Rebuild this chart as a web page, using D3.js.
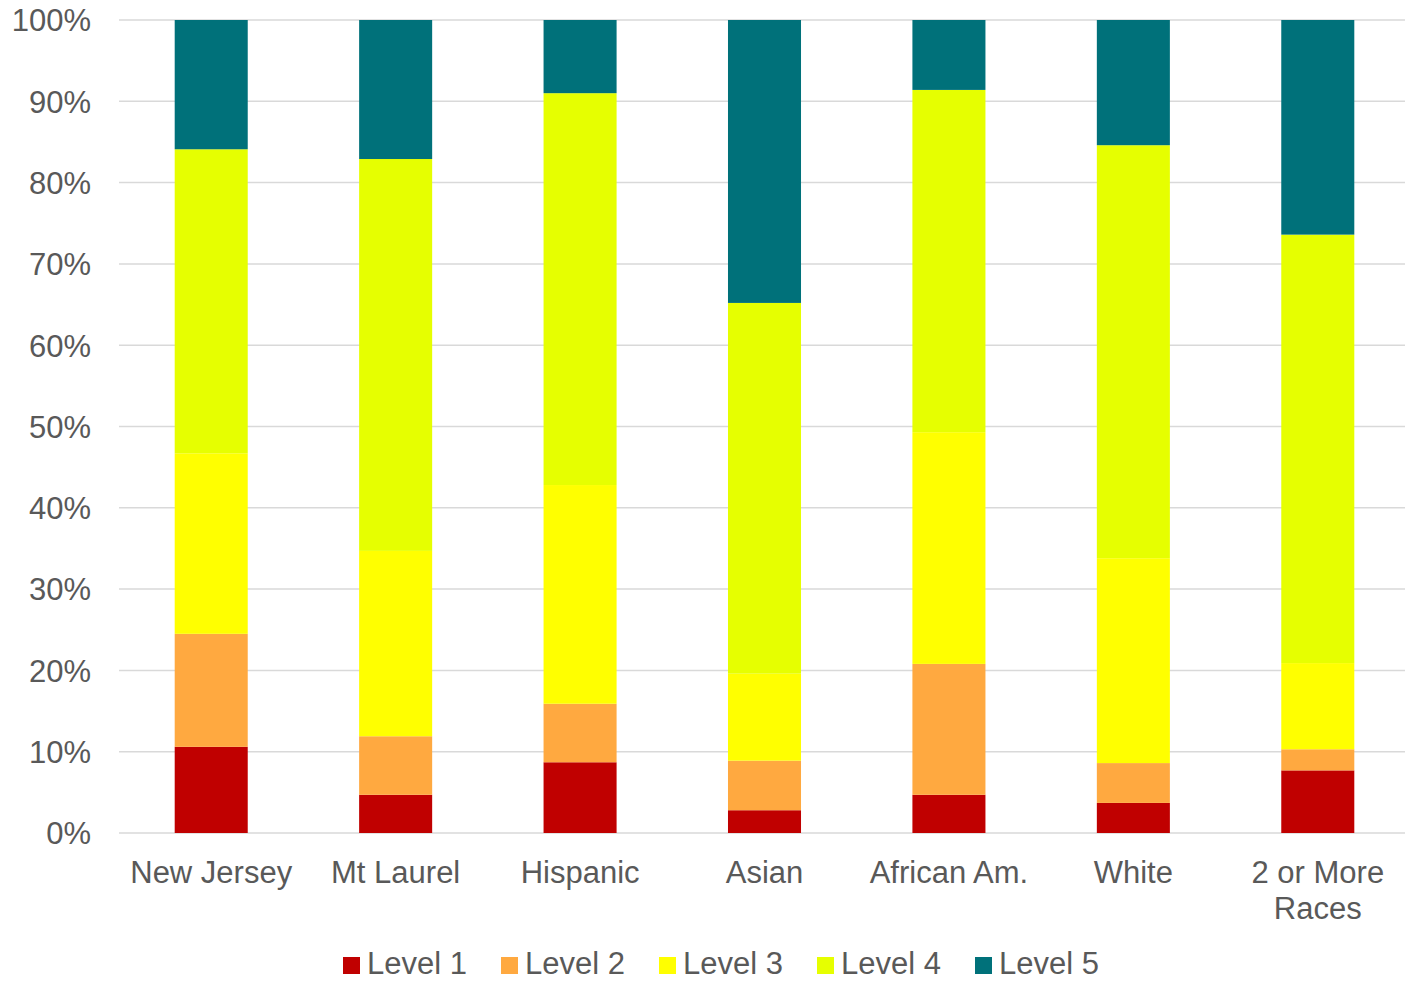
<!DOCTYPE html>
<html><head><meta charset="utf-8">
<script src="https://cdn.jsdelivr.net/npm/d3@7"></script>
<style>body{margin:0;background:#fff;}svg{display:block;font-family:"Liberation Sans",Arial,sans-serif;}</style>
</head><body>
<svg id="chart" width="1405" height="981"></svg>
<script>
const categories = ["New Jersey","Mt Laurel","Hispanic","Asian","African Am.","White","2 or More Races"];
const seriesNames = ["Level 1","Level 2","Level 3","Level 4","Level 5"];
const level1 = [10.6, 4.7, 8.7, 2.8, 4.7, 3.7, 7.7];
const level2 = [13.9, 7.2, 7.2, 6.1, 16.1, 4.9, 2.6];
const level3 = [22.2, 22.8, 26.9, 10.7, 28.5, 25.2, 10.6];
const level4 = [37.4, 48.2, 48.2, 45.6, 42.1, 50.8, 52.7];
const level5 = [15.9, 17.1, 9.0, 34.8, 8.6, 15.4, 26.4];
const colors = ["#C00000","#FFA940","#FFFF00","#E6FF00","#00717A"];
const tickValues = [0,10,20,30,40,50,60,70,80,90,100];

const series = [level1, level2, level3, level4, level5];
const rows = categories.map((c,i)=>{const r={cat:c}; seriesNames.forEach((s,j)=>r[s]=series[j][i]); return r;});
const stacked = d3.stack().keys(seriesNames)(rows);

const svg = d3.select("#chart");
const x = d3.scaleBand().domain(categories).range([119,1410]).paddingInner(0.604).paddingOuter(0.302);
const y = d3.scaleLinear().domain([0,100]).range([833,20]);
const textColor = "#595959";

// gridlines
svg.append("g").selectAll("line").data(tickValues).join("line")
  .attr("x1",119).attr("x2",1405)
  .attr("y1",d=>y(d)).attr("y2",d=>y(d))
  .attr("stroke","#D9D9D9").attr("stroke-width",1.5);

// y axis labels
const yAxis = d3.axisLeft(y).tickValues(tickValues).tickFormat(d=>d+"%").tickSize(0).tickPadding(0);
const yg = svg.append("g").attr("transform","translate(91,0)").call(yAxis);
yg.select(".domain").remove();
yg.selectAll("text").attr("fill",textColor).style("font-size","31px").attr("dy","0.35em");

// bars
svg.append("g").selectAll("g").data(stacked).join("g")
  .attr("fill",(d,i)=>colors[i])
  .selectAll("rect").data(d=>d).join("rect")
  .attr("x",d=>x(d.data.cat))
  .attr("width",x.bandwidth())
  .attr("y",d=>y(d[1]))
  .attr("height",d=>y(d[0])-y(d[1]));

// x axis labels
const xAxis = d3.axisBottom(x).tickSize(0).tickPadding(0);
const xg = svg.append("g").attr("transform","translate(0,833)").call(xAxis);
xg.select(".domain").remove();
xg.selectAll("text").attr("fill",textColor).style("font-size","31px").attr("dy",null).attr("y",0)
  .each(function(d){
    const t = d3.select(this); t.text(null);
    const lines = d==="2 or More Races" ? ["2 or More","Races"] : [d];
    lines.forEach((l,k)=>t.append("tspan").attr("x",0).attr("y",50+k*36).text(l));
  });

// legend
const legend = svg.append("g");
seriesNames.forEach((s,i)=>{
  const g = legend.append("g").attr("transform",`translate(${343+i*158},0)`);
  g.append("rect").attr("x",0).attr("y",957).attr("width",17).attr("height",17).attr("fill",colors[i]);
  g.append("text").attr("x",24).attr("y",974).attr("fill",textColor).style("font-size","31px").text(s);
});
</script>
</body></html>
